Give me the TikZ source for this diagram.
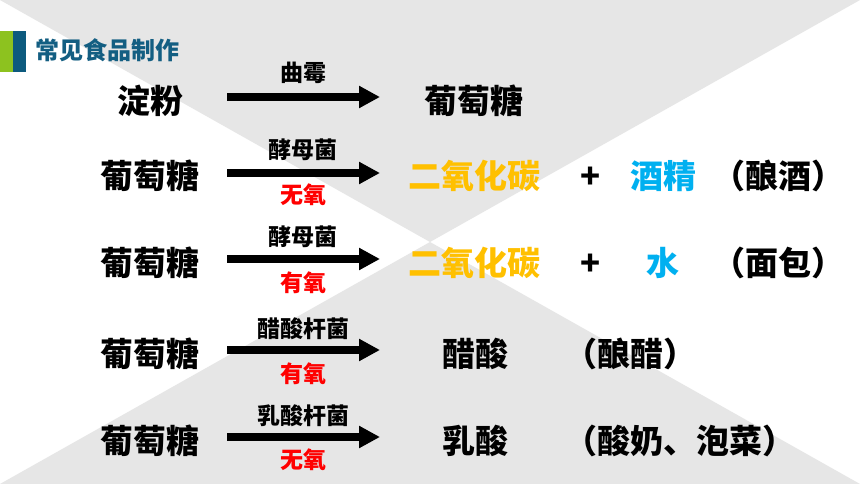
\documentclass[tikz,border=0pt]{standalone}
\usepackage{fontspec}
\setmainfont{Noto Sans CJK SC}
\usetikzlibrary{arrows.meta}
\definecolor{bgray}{HTML}{E6E6E6}
\definecolor{bargreen}{HTML}{8DC21F}
\definecolor{barblue}{HTML}{0D5A7E}
\definecolor{titleblue}{HTML}{135E82}
\definecolor{orangeT}{HTML}{FFC000}
\definecolor{blueT}{HTML}{00B0F0}
\definecolor{redT}{HTML}{FF0000}
\begin{document}
\begin{tikzpicture}[x=1bp,y=-1bp,
  big/.style={font=\fontsize{33bp}{33bp}\selectfont\bfseries, inner sep=0pt, anchor=base},
  lab/.style={font=\fontsize{23bp}{23bp}\selectfont\bfseries, inner sep=0pt, anchor=base},
  cond/.style={lab, text=redT},
  arr/.style={line width=8bp, -{Triangle[length=21bp,width=21bp]}},
]
\useasboundingbox (0,0) rectangle (860,484);
\fill[white] (0,0) rectangle (860,484);
\fill[bgray] (0,0) -- (860,0) -- (430,242) -- cycle;
\fill[bgray] (0,484) -- (860,484) -- (430,242) -- cycle;
\fill[bargreen] (0,31) rectangle (13,72);
\fill[barblue] (13,31) rectangle (26,72);
\node[font=\fontsize{24bp}{24bp}\selectfont\bfseries, text=titleblue, anchor=base west, inner sep=0pt] (title) at (35,60) {常见食品制作};

% row 1
\node[big] (s1) at (150,113.5) {淀粉};
\node[big] (p1) at (474,113.5) {葡萄糖};
\coordinate (a1s) at (227,97); \coordinate (a1e) at (380,97);
\draw[arr] (a1s) -- (a1e);
\node[lab] (m1) at (303,81.7) {曲霉};

% row 2
\node[big] (s2) at (150,189) {葡萄糖};
\coordinate (a2s) at (227,173); \coordinate (a2e) at (380,173);
\draw[arr] (a2s) -- (a2e);
\node[lab] (m2) at (303,158.7) {酵母菌};
\node[cond] (c2) at (303,203.7) {无氧};
\node[big,text=orangeT] (p2) at (474.5,189) {二氧化碳};
\node[big] (plus2) at (591,189) {+};
\node[big,text=blueT] (q2) at (663,189) {酒精};
\node[big,anchor=base west] (n2) at (712,189) {（酿酒）};

% row 3
\node[big] (s3) at (150,275.5) {葡萄糖};
\coordinate (a3s) at (227,259); \coordinate (a3e) at (380,259);
\draw[arr] (a3s) -- (a3e);
\node[lab] (m3) at (303,245.7) {酵母菌};
\node[cond] (c3) at (303,291.7) {有氧};
\node[big,text=orangeT] (p3) at (474.5,275.5) {二氧化碳};
\node[big] (plus3) at (591,275.5) {+};
\node[big,text=blueT] (q3) at (663,275.5) {水};
\node[big,anchor=base west] (n3) at (712,275.5) {（面包）};

% row 4
\node[big] (s4) at (150,366.5) {葡萄糖};
\coordinate (a4s) at (227,350); \coordinate (a4e) at (380,350);
\draw[arr] (a4s) -- (a4e);
\node[lab] (m4) at (303,337.7) {醋酸杆菌};
\node[cond] (c4) at (303,382.7) {有氧};
\node[big] (p4) at (475,366.5) {醋酸};
\node[big,anchor=base west] (n4) at (564,366.5) {（酿醋）};

% row 5
\node[big] (s5) at (150,453.5) {葡萄糖};
\coordinate (a5s) at (227,437); \coordinate (a5e) at (380,437);
\draw[arr] (a5s) -- (a5e);
\node[lab] (m5) at (303,424.7) {乳酸杆菌};
\node[cond] (c5) at (303,468.7) {无氧};
\node[big] (p5) at (475,453.5) {乳酸};
\node[big,anchor=base west] (n5) at (564,453.5) {（酸奶、泡菜）};
\end{tikzpicture}
\end{document}
